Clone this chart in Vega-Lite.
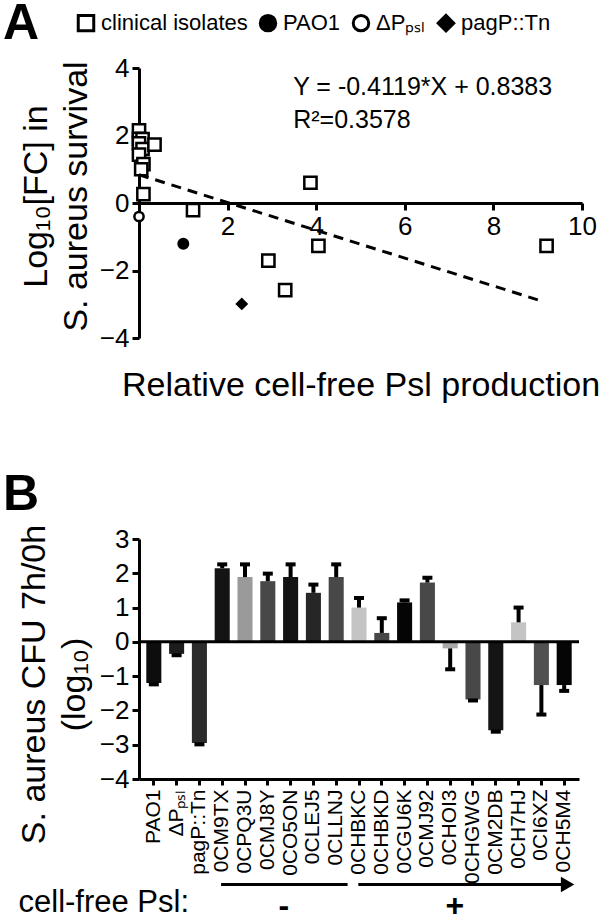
{
  "$schema": "https://vega.github.io/schema/vega-lite/v6.json",
  "padding": {"left": 3, "top": 12, "right": 5, "bottom": 0},
  "config": {
    "font": "Liberation Sans",
    "view": {"stroke": null},
    "axis": {"domainColor": "black", "domainWidth": 3, "tickColor": "black", "tickWidth": 3, "tickSize": 7, "labelColor": "black", "labelFontSize": 26, "labelFont": "Liberation Sans", "titleColor": "black", "titleFontSize": 34, "titleFontWeight": "normal", "titleFont": "Liberation Sans", "grid": false, "labelFlush": false, "labelOverlap": false},
    "legend": {"orient": "none", "legendX": -136, "legendY": -56, "direction": "horizontal", "titleOrient": "left", "titleFontSize": 50, "titleFontWeight": "bold", "titleColor": "black", "titlePadding": 35, "labelFontSize": 22, "labelColor": "black", "labelLimit": 300, "symbolSize": 240, "symbolStrokeWidth": 3, "labelOffset": 4, "columnPadding": 6, "labelFont": "Liberation Sans", "titleFont": "Liberation Sans"},
    "title": {"fontSize": 50, "fontWeight": "bold", "color": "black", "font": "Liberation Sans"},
    "concat": {"spacing": 68}
  },
  "resolve": {"scale": {"shape": "independent", "fill": "independent", "stroke": "independent", "color": "independent"}, "legend": {"shape": "independent", "fill": "independent", "stroke": "independent", "color": "independent"}},
  "vconcat": [
    {
      "width": 443,
      "height": 270,
      "data": {"values": [
        {"psl": 0.0, "fc": 2.15, "group": "clinical isolates"},
        {"psl": 0.0, "fc": 1.9, "group": "clinical isolates"},
        {"psl": 0.08, "fc": 1.89, "group": "clinical isolates"},
        {"psl": 0.0, "fc": 1.77, "group": "clinical isolates"},
        {"psl": 0.08, "fc": 1.6, "group": "clinical isolates"},
        {"psl": 0.0, "fc": 1.43, "group": "clinical isolates"},
        {"psl": 0.1, "fc": 1.15, "group": "clinical isolates"},
        {"psl": 0.05, "fc": 1.0, "group": "clinical isolates"},
        {"psl": 0.35, "fc": 1.73, "group": "clinical isolates"},
        {"psl": 0.1, "fc": 0.26, "group": "clinical isolates"},
        {"psl": 1.22, "fc": -0.21, "group": "clinical isolates"},
        {"psl": 3.87, "fc": 0.6, "group": "clinical isolates"},
        {"psl": 4.05, "fc": -1.27, "group": "clinical isolates"},
        {"psl": 2.92, "fc": -1.71, "group": "clinical isolates"},
        {"psl": 3.3, "fc": -2.58, "group": "clinical isolates"},
        {"psl": 9.2, "fc": -1.27, "group": "clinical isolates"},
        {"psl": 1.0, "fc": -1.21, "group": "PAO1"},
        {"psl": 0.0, "fc": -0.4, "group": "ΔPₚₛₗ"},
        {"psl": 2.32, "fc": -2.99, "group": "pagP::Tn"}
      ]},
      "layer": [
        {
          "transform": [{"filter": "datum.group === 'clinical isolates'"}],
          "mark": {"type": "point", "filled": true, "strokeWidth": 2.5, "opacity": 1, "size": 150},
          "encoding": {
            "x": {"field": "psl", "type": "quantitative", "scale": {"domain": [0, 10], "nice": false},
              "axis": {"values": [2, 4, 6, 8, 10], "offset": -135, "title": "Relative cell-free Psl production", "titleY": 182, "titleBaseline": "middle", "labelPadding": 3}},
            "y": {"field": "fc", "type": "quantitative", "scale": {"domain": [-4, 4], "nice": false},
              "axis": {"values": [-4, -2, 0, 2, 4], "title": ["Log₁₀[FC] in", "S. aureus survival"], "titleLineHeight": 40, "titlePadding": 6, "labelPadding": 3, "titleY": 128}},
            "shape": {"field": "group", "type": "nominal",
              "scale": {"domain": ["clinical isolates", "PAO1", "ΔPₚₛₗ", "pagP::Tn"], "range": ["square", "circle", "circle", "diamond"]},
              "legend": {"title": "A"}},
            "fill": {"field": "group", "type": "nominal",
              "scale": {"domain": ["clinical isolates", "PAO1", "ΔPₚₛₗ", "pagP::Tn"], "range": ["white", "black", "white", "black"]},
              "legend": {"title": "A"}},
            "stroke": {"field": "group", "type": "nominal",
              "scale": {"domain": ["clinical isolates", "PAO1", "ΔPₚₛₗ", "pagP::Tn"], "range": ["black", "black", "black", "black"]},
              "legend": {"title": "A"}}
          }
        },
        {
          "transform": [{"filter": "datum.group === 'PAO1' || datum.group === 'pagP::Tn'"}],
          "mark": {"type": "point", "filled": true, "strokeWidth": 2, "opacity": 1, "size": 100},
          "encoding": {
            "x": {"field": "psl", "type": "quantitative"},
            "y": {"field": "fc", "type": "quantitative"},
            "shape": {"field": "group", "type": "nominal"},
            "fill": {"field": "group", "type": "nominal"},
            "stroke": {"field": "group", "type": "nominal"}
          }
        },
        {
          "transform": [{"filter": "datum.group === 'ΔPₚₛₗ'"}],
          "mark": {"type": "point", "filled": true, "strokeWidth": 2.5, "opacity": 1, "size": 85},
          "encoding": {
            "x": {"field": "psl", "type": "quantitative"},
            "y": {"field": "fc", "type": "quantitative"},
            "shape": {"field": "group", "type": "nominal"},
            "fill": {"field": "group", "type": "nominal"},
            "stroke": {"field": "group", "type": "nominal"}
          }
        },
        {
          "data": {"values": [{"psl": 0, "fc": 0.8383}, {"psl": 9.13, "fc": -2.9223}]},
          "mark": {"type": "line", "color": "black", "strokeWidth": 3, "strokeDash": [10, 7]},
          "encoding": {
            "x": {"field": "psl", "type": "quantitative"},
            "y": {"field": "fc", "type": "quantitative"}
          }
        },
        {
          "data": {"values": [
            {"psl": 3.48, "fc": 3.44, "label": "Y = -0.4119*X + 0.8383"},
            {"psl": 3.48, "fc": 2.46, "label": "R²=0.3578"}
          ]},
          "mark": {"type": "text", "align": "left", "baseline": "middle", "fontSize": 25, "color": "black"},
          "encoding": {
            "x": {"field": "psl", "type": "quantitative"},
            "y": {"field": "fc", "type": "quantitative"},
            "text": {"field": "label"}
          }
        }
      ]
    },
    {
      "width": 440,
      "height": 240,
      "title": {"text": "B", "anchor": "start", "frame": "group", "dx": -136, "dy": 0},
      "resolve": {"scale": {"x": "independent"}, "axis": {"x": "independent"}},
      "layer": [
        {
          "data": {"values": [
            {"strain": "PAO1", "value": -1.2, "err_end": -1.24},
            {"strain": "ΔPₚₛₗ", "value": -0.35, "err_end": -0.39},
            {"strain": "pagP::Tn", "value": -2.95, "err_end": -2.99},
            {"strain": "0CM9TX", "value": 2.15, "err_end": 2.26},
            {"strain": "0CPQ3U", "value": 1.89, "err_end": 2.26},
            {"strain": "0CMJ8Y", "value": 1.77, "err_end": 1.99},
            {"strain": "0CO5ON", "value": 1.89, "err_end": 2.26},
            {"strain": "0CLEJ5", "value": 1.43, "err_end": 1.67},
            {"strain": "0CLLNJ", "value": 1.89, "err_end": 2.26},
            {"strain": "0CHBKC", "value": 1.0, "err_end": 1.28},
            {"strain": "0CHBKD", "value": 0.26, "err_end": 0.69},
            {"strain": "0CGU6K", "value": 1.15, "err_end": 1.21},
            {"strain": "0CMJ92", "value": 1.73, "err_end": 1.87},
            {"strain": "0CHOI3", "value": -0.19, "err_end": -0.8},
            {"strain": "0CHGWG", "value": -1.68, "err_end": -1.71},
            {"strain": "0CM2DB", "value": -2.58, "err_end": -2.62},
            {"strain": "0CH7HJ", "value": 0.57, "err_end": 1.0},
            {"strain": "0CI6XZ", "value": -1.26, "err_end": -2.12},
            {"strain": "0CH5M4", "value": -1.26, "err_end": -1.43}
          ]},
          "layer": [
            {
              "mark": {"type": "bar"},
              "encoding": {
                "x": {"field": "strain", "type": "nominal", "sort": null,
                  "scale": {"paddingInner": 0.34, "paddingOuter": 0.32},
                  "axis": {"title": "cell-free Psl:", "titleX": -121, "titleY": 123, "titleAlign": "left", "titleBaseline": "middle", "titleFontSize": 31, "labelAngle": -90, "labelFontSize": 21, "labelPadding": 4, "tickSize": 6}},
                "y": {"field": "value", "type": "quantitative", "scale": {"domain": [-4, 3], "nice": false},
                  "axis": {"values": [-4, -3, -2, -1, 0, 1, 2, 3], "title": ["S. aureus CFU 7h/0h", "(log₁₀)"], "titleLineHeight": 40, "titlePadding": 8, "labelPadding": 3, "titleY": 145}},
                "color": {"field": "strain", "type": "nominal", "legend": null,
                  "scale": {"domain": ["PAO1", "ΔPₚₛₗ", "pagP::Tn", "0CM9TX", "0CPQ3U", "0CMJ8Y", "0CO5ON", "0CLEJ5", "0CLLNJ", "0CHBKC", "0CHBKD", "0CGU6K", "0CMJ92", "0CHOI3", "0CHGWG", "0CM2DB", "0CH7HJ", "0CI6XZ", "0CH5M4"],
                    "range": ["#0d0d0d", "#1c1c1c", "#2b2b2b", "#141414", "#9a9a9a", "#484848", "#141414", "#262626", "#484848", "#c4c4c4", "#484848", "#050505", "#484848", "#a8a8a8", "#484848", "#141414", "#c4c4c4", "#505050", "#050505"]}}
              }
            },
            {
              "mark": {"type": "rule", "color": "black", "strokeWidth": 4},
              "encoding": {
                "x": {"field": "strain", "type": "nominal", "sort": null},
                "y": {"field": "value", "type": "quantitative", "axis": {"values": [-4, -3, -2, -1, 0, 1, 2, 3], "title": ["S. aureus CFU 7h/0h", "(log₁₀)"], "titleLineHeight": 40, "titlePadding": 8, "labelPadding": 3, "titleY": 145}},
                "y2": {"field": "err_end"}
              }
            },
            {
              "mark": {"type": "tick", "color": "black", "thickness": 4, "size": 10, "opacity": 1},
              "encoding": {
                "x": {"field": "strain", "type": "nominal", "sort": null},
                "y": {"field": "err_end", "type": "quantitative", "axis": {"values": [-4, -3, -2, -1, 0, 1, 2, 3], "title": ["S. aureus CFU 7h/0h", "(log₁₀)"], "titleLineHeight": 40, "titlePadding": 8, "labelPadding": 3, "titleY": 145}}
              }
            },
            {
              "data": {"values": [{"value": 0}]},
              "mark": {"type": "rule", "color": "black", "strokeWidth": 3},
              "encoding": {
                "y": {"field": "value", "type": "quantitative", "axis": {"values": [-4, -3, -2, -1, 0, 1, 2, 3], "title": ["S. aureus CFU 7h/0h", "(log₁₀)"], "titleLineHeight": 40, "titlePadding": 8, "labelPadding": 3, "titleY": 145}}
              }
            }
          ]
        },
        {
          "layer": [
            {
              "data": {"values": [
                {"x0": 2.95, "x1": 8.5, "value": -7.08},
                {"x0": 8.97, "x1": 18.1, "value": -7.08}
              ]},
              "mark": {"type": "rule", "color": "black", "strokeWidth": 3},
              "encoding": {
                "x": {"field": "x0", "type": "quantitative", "scale": {"domain": [-0.65, 18.65], "nice": false, "zero": false}, "axis": null},
                "x2": {"field": "x1"},
                "y": {"field": "value", "type": "quantitative", "scale": {"domain": [-4, 3], "nice": false}, "axis": {"values": [-4, -3, -2, -1, 0, 1, 2, 3], "title": ["S. aureus CFU 7h/0h", "(log₁₀)"], "titleLineHeight": 40, "titlePadding": 8, "labelPadding": 3, "titleY": 145}}
              }
            },
            {
              "data": {"values": [{"x0": 18.15, "value": -7.08}]},
              "mark": {"type": "point", "shape": "triangle-right", "filled": true, "color": "black", "size": 240, "opacity": 1},
              "encoding": {
                "x": {"field": "x0", "type": "quantitative", "scale": {"domain": [-0.65, 18.65], "nice": false, "zero": false}, "axis": null},
                "y": {"field": "value", "type": "quantitative", "scale": {"domain": [-4, 3], "nice": false}, "axis": {"values": [-4, -3, -2, -1, 0, 1, 2, 3], "title": ["S. aureus CFU 7h/0h", "(log₁₀)"], "titleLineHeight": 40, "titlePadding": 8, "labelPadding": 3, "titleY": 145}}
              }
            },
            {
              "data": {"values": [
                {"x0": 5.7, "value": -7.7, "label": "-"},
                {"x0": 13.2, "value": -7.7, "label": "+"}
              ]},
              "mark": {"type": "text", "fontSize": 32, "fontWeight": "bold", "color": "black", "baseline": "middle", "align": "center"},
              "encoding": {
                "x": {"field": "x0", "type": "quantitative", "scale": {"domain": [-0.65, 18.65], "nice": false, "zero": false}, "axis": null},
                "y": {"field": "value", "type": "quantitative", "scale": {"domain": [-4, 3], "nice": false}, "axis": {"values": [-4, -3, -2, -1, 0, 1, 2, 3], "title": ["S. aureus CFU 7h/0h", "(log₁₀)"], "titleLineHeight": 40, "titlePadding": 8, "labelPadding": 3, "titleY": 145}},
                "text": {"field": "label"}
              }
            }
          ]
        }
      ]
    }
  ]
}
